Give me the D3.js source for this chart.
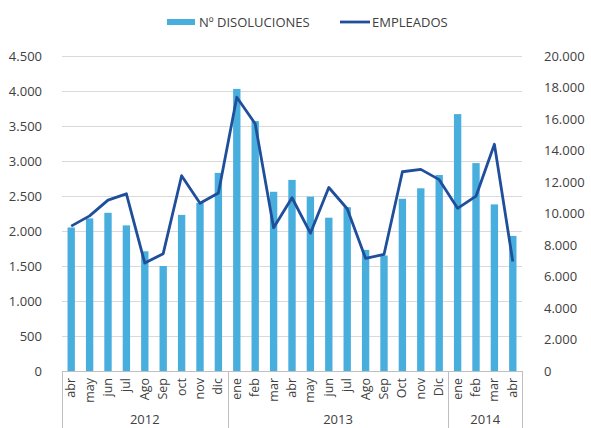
<!DOCTYPE html>
<html>
<head>
<meta charset="utf-8">
<script src="https://cdn.jsdelivr.net/npm/d3@7"></script>
<style>
  body { margin: 0; background: #fff; }
  text { font-family: "Open Sans", "Noto Sans", sans-serif; fill: #404040; }
</style>
</head>
<body>
<div id="chart"></div>
<script>
const WIDTH = 591;
const HEIGHT = 428;

const margin = { top: 56, right: 69, bottom: 57, left: 62 };
const width = WIDTH - margin.left - margin.right;
const height = HEIGHT - margin.top - margin.bottom;

// meses por año
const months2012 = ['abr', 'may', 'jun', 'jul', 'Ago', 'Sep', 'oct', 'nov', 'dic'];
const months2013 = ['ene', 'feb', 'mar', 'abr', 'may', 'jun', 'jul', 'Ago', 'Sep', 'Oct', 'nov', 'Dic'];
const months2014 = ['ene', 'feb', 'mar', 'abr'];
const years = ['2012', '2013', '2014'];

const disoluciones = [2050, 2180, 2260, 2080, 1710, 1500, 2230, 2400, 2830,
  4030, 3570, 2560, 2730, 2490, 2190, 2340, 1730, 1650, 2460, 2610, 2800,
  3670, 2970, 2380, 1930];
const empleados = [9200, 9850, 10850, 11250, 6850, 7450, 12400, 10650, 11300,
  17380, 15700, 9100, 11000, 8750, 11650, 10300, 7150, 7400, 12650, 12800, 12150,
  10330, 11100, 14400, 6950];

const leftTicks = [0, 500, 1000, 1500, 2000, 2500, 3000, 3500, 4000, 4500];
const rightTicks = [0, 2000, 4000, 6000, 8000, 10000, 12000, 14000, 16000, 18000, 20000];

const BAR_COLOR = '#48AEDD';
const LINE_COLOR = '#1F4E9B';

const groups = [months2012, months2013, months2014];
const data = [];
groups.forEach((g, gi) => {
  g.forEach(m => data.push({ key: `${years[gi]}-${m}`, month: m, year: years[gi] }));
});
data.forEach((d, i) => {
  d.dis = disoluciones[i];
  d.emp = empleados[i];
});

const fmt = v => d3.format(',')(v).replace(/,/g, '.');

const svg = d3.select('#chart').append('svg')
  .attr('width', WIDTH)
  .attr('height', HEIGHT);

const g = svg.append('g')
  .attr('transform', `translate(${margin.left},${margin.top})`);

const x = d3.scaleBand()
  .domain(data.map(d => d.key))
  .range([0, width])
  .paddingInner(0.6)
  .paddingOuter(0.3);
const step = x.step();

const yL = d3.scaleLinear().domain([0, 4500]).range([height, 0]);
const yR = d3.scaleLinear().domain([0, 20000]).range([height, 0]);

// lineas de grilla
g.append('g')
  .selectAll('line')
  .data(leftTicks.slice(1))
  .enter()
  .append('line')
  .attr('x1', 0)
  .attr('x2', width)
  .attr('y1', d => yL(d) + 0.5)
  .attr('y2', d => yL(d) + 0.5)
  .attr('stroke', '#d9d9d9')
  .attr('stroke-width', 1);

// eje izquierdo
const axisL = g.append('g')
  .call(d3.axisLeft(yL).tickValues(leftTicks).tickFormat(fmt).tickSize(0).tickPadding(20));
axisL.select('.domain').remove();
axisL.selectAll('text').attr('font-size', 13).style('fill', '#404040');

// eje derecho
const axisR = g.append('g')
  .attr('transform', `translate(${width},0)`)
  .call(d3.axisRight(yR).tickValues(rightTicks).tickFormat(fmt).tickSize(0).tickPadding(22));
axisR.select('.domain').remove();
axisR.selectAll('text').attr('font-size', 13).style('fill', '#404040');

// barras
g.selectAll('.bar')
  .data(data)
  .enter()
  .append('rect')
  .attr('class', 'bar')
  .attr('x', d => x(d.key))
  .attr('y', d => yL(d.dis))
  .attr('width', x.bandwidth())
  .attr('height', d => height - yL(d.dis))
  .attr('fill', BAR_COLOR);

// linea empleados
const line = d3.line()
  .x(d => x(d.key) + x.bandwidth() / 2)
  .y(d => yR(d.emp));

g.append('path')
  .datum(data)
  .attr('fill', 'none')
  .attr('stroke', LINE_COLOR)
  .attr('stroke-width', 2.8)
  .attr('stroke-linejoin', 'round')
  .attr('d', line);

// eje de categorias
g.append('line')
  .attr('x1', 0)
  .attr('x2', width)
  .attr('y1', height + 0.5)
  .attr('y2', height + 0.5)
  .attr('stroke', '#bfbfbf');

let start = 0;
const seps = [0];
groups.forEach(gr => {
  start += gr.length;
  seps.push(start);
});
g.selectAll('.sep')
  .data(seps)
  .enter()
  .append('line')
  .attr('class', 'sep')
  .attr('x1', d => Math.round(d * step) + 0.5)
  .attr('x2', d => Math.round(d * step) + 0.5)
  .attr('y1', height)
  .attr('y2', HEIGHT)
  .attr('stroke', '#bfbfbf');

g.selectAll('.month')
  .data(data)
  .enter()
  .append('text')
  .attr('class', 'month')
  .attr('transform', d => `translate(${x(d.key) + x.bandwidth() / 2 + 4},${height + 7}) rotate(-90)`)
  .attr('text-anchor', 'end')
  .attr('font-size', 12.5)
  .text(d => d.month);

g.selectAll('.year')
  .data(years)
  .enter()
  .append('text')
  .attr('class', 'year')
  .attr('x', (d, i) => (seps[i] + seps[i + 1]) / 2 * step)
  .attr('y', height + 53)
  .attr('text-anchor', 'middle')
  .attr('font-size', 13)
  .text(d => d);

// leyenda
const legend = svg.append('g').attr('transform', 'translate(167,22)');
legend.append('rect')
  .attr('x', 0)
  .attr('y', -3)
  .attr('width', 28)
  .attr('height', 6)
  .attr('fill', BAR_COLOR);
legend.append('text')
  .attr('x', 32)
  .attr('y', 0)
  .attr('dy', '0.35em')
  .attr('font-size', 13)
  .text('Nº DISOLUCIONES');
legend.append('line')
  .attr('x1', 173)
  .attr('x2', 203)
  .attr('y1', 0)
  .attr('y2', 0)
  .attr('stroke', LINE_COLOR)
  .attr('stroke-width', 2.8);
legend.append('text')
  .attr('x', 205)
  .attr('y', 0)
  .attr('dy', '0.35em')
  .attr('font-size', 13)
  .text('EMPLEADOS');
</script>
</body>
</html>
